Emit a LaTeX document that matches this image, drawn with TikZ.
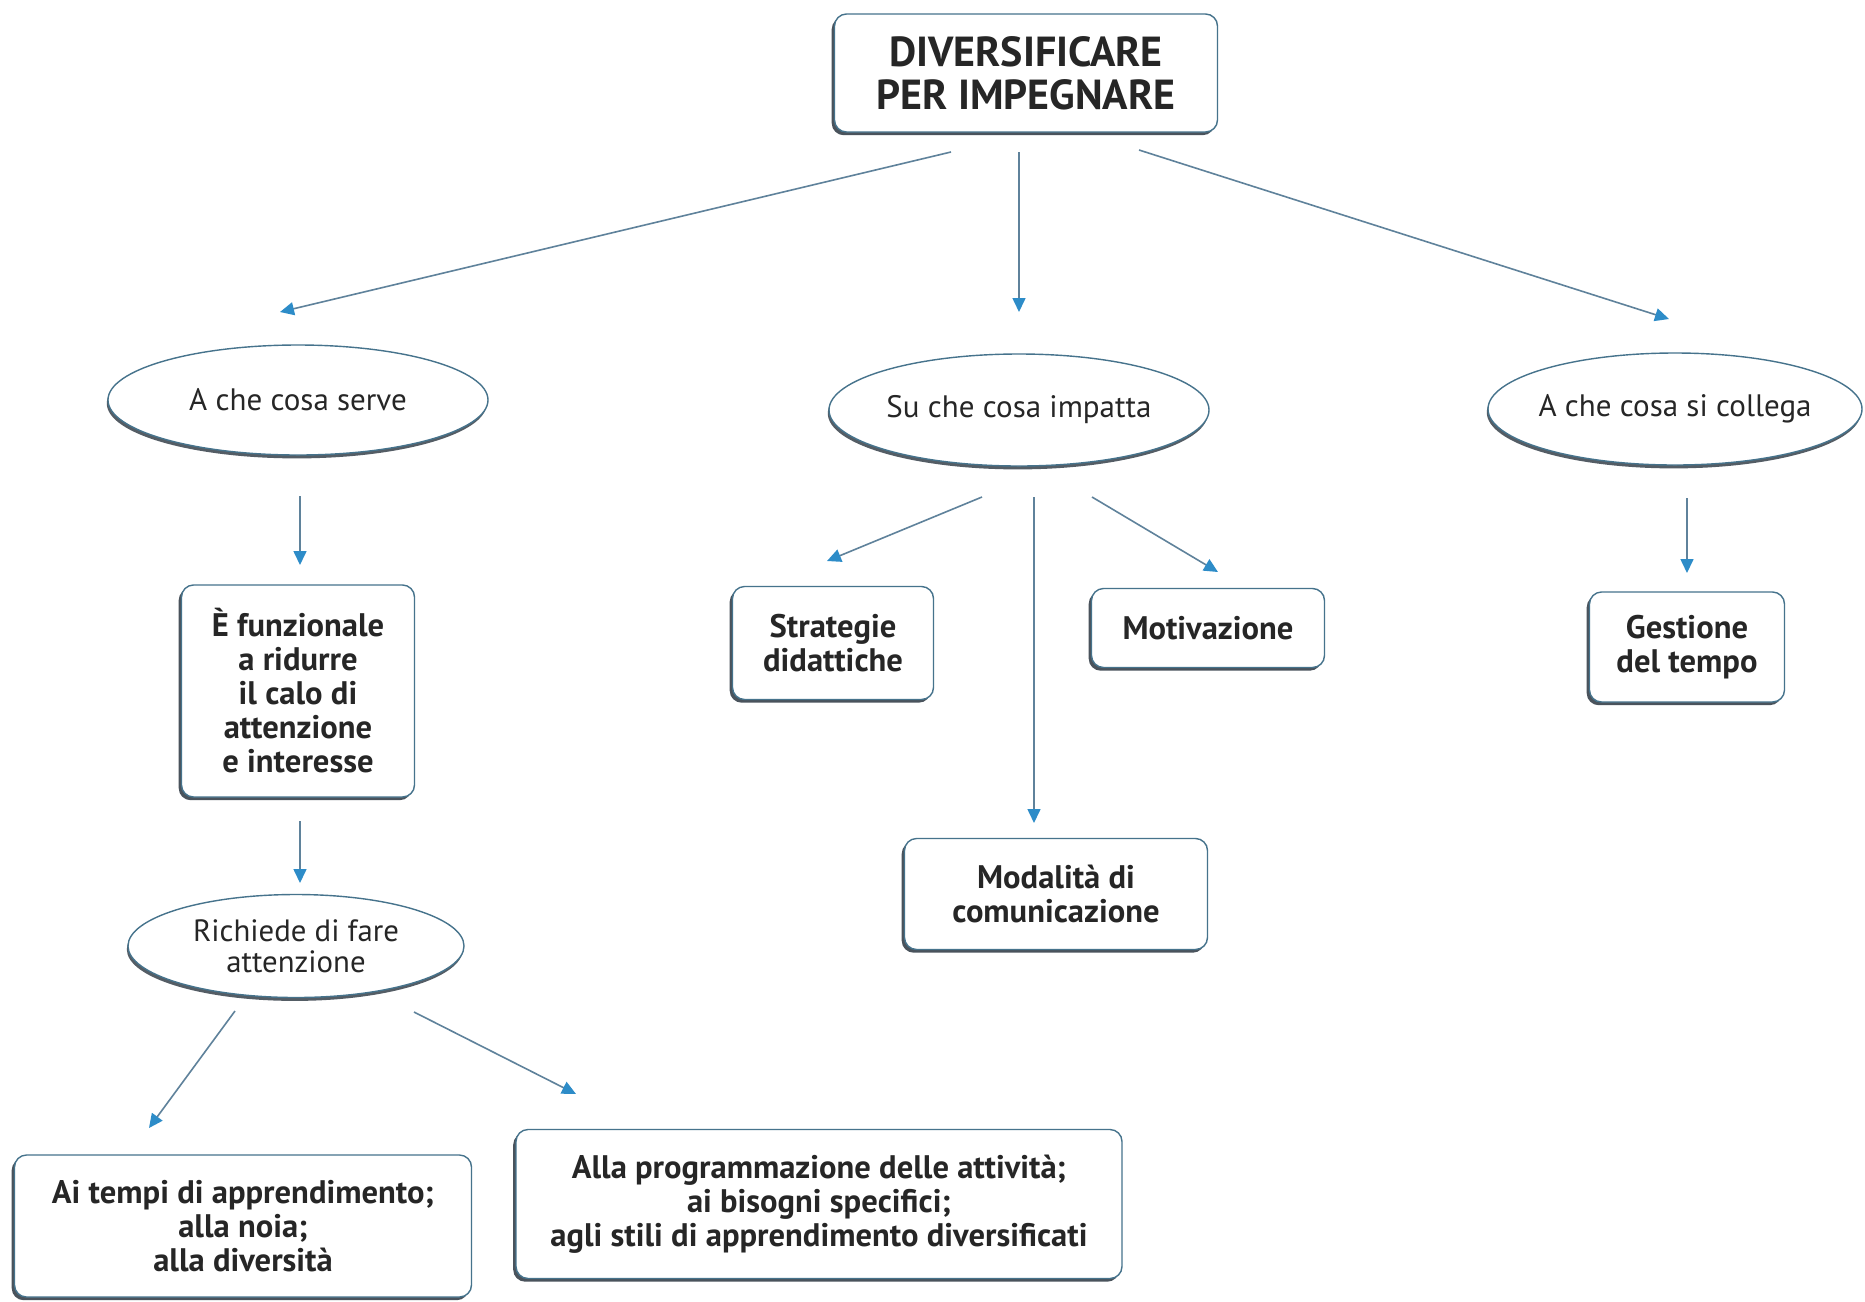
\documentclass[tikz,border=0pt]{standalone}
\usepackage{fontspec}
\setmainfont{PT Sans}
\usetikzlibrary{arrows.meta,shapes.geometric,shadows,calc}

\definecolor{linecol}{RGB}{95,130,155}
\definecolor{tipcol}{RGB}{45,140,200}
\definecolor{framecol}{RGB}{70,115,140}
\definecolor{shadecol}{RGB}{55,65,75}
\definecolor{textcol}{RGB}{38,38,38}

\tikzset{
  box/.style={rectangle, rounded corners=6pt, draw=framecol, line width=0.7pt,
    fill=white, text=textcol, align=center, inner sep=0pt,
    font=\bfseries\fontsize{16.3}{17}\selectfont,
    drop shadow={shadow xshift=-1.4pt, shadow yshift=-1.6pt, fill=shadecol, opacity=0.9}},
  oval/.style={ellipse, draw=framecol, line width=0.7pt, fill=white, text=textcol,
    align=center, inner ysep=0pt, inner xsep=-20pt, font=\fontsize{15.5}{16}\selectfont,
    drop shadow={shadow xshift=-0.6pt, shadow yshift=-1.7pt, fill=shadecol, opacity=0.85}},
  conn/.style={draw=linecol, line width=0.8pt,
    -{Triangle[length=7pt,width=6.5pt,color=tipcol]}}
}

\begin{document}
\begin{tikzpicture}[x=0.5pt,y=-0.5pt]
  \useasboundingbox[fill=white] (0,0) rectangle (1865,1302);

  % root
  \node[box, minimum width=191.5pt, minimum height=59pt,
        font=\bfseries\fontsize{21}{21.5}\selectfont] (title) at (1026,73)
        {DIVERSIFICARE\\PER IMPEGNARE};

  % three questions
  \node[oval, minimum width=190pt, minimum height=55pt] (serve) at (298,400) {A che cosa serve};
  \node[oval, minimum width=190pt, minimum height=56pt] (impatta) at (1019,410) {Su che cosa impatta};
  \node[oval, minimum width=187pt, minimum height=56pt] (collega) at (1675,409) {A che cosa si collega};

  % left branch
  \node[box, minimum width=116.5pt, minimum height=106pt] (funz) at (298,691)
        {È funzionale\\a ridurre\\il calo di\\attenzione\\e interesse};
  \node[oval, minimum width=168pt, minimum height=51.5pt,
        font=\fontsize{15.4}{15.5}\selectfont] (richiede) at (296,946)
        {Richiede di fare\\attenzione};
  \node[box, minimum width=228.5pt, minimum height=71pt] (tempi) at (243,1226)
        {Ai tempi di apprendimento;\\alla noia;\\alla diversità};
  \node[box, minimum width=303pt, minimum height=74.5pt] (prog) at (819,1204)
        {Alla programmazione delle attività;\\ai bisogni specifici;\\agli stili di apprendimento diversificati};

  % middle branch
  \node[box, minimum width=100.5pt, minimum height=56.5pt] (strategie) at (833,643)
        {Strategie\\didattiche};
  \node[box, minimum width=116.5pt, minimum height=39.5pt] (motiv) at (1208,628)
        {Motivazione};
  \node[box, minimum width=151.5pt, minimum height=55.5pt] (modal) at (1056,894)
        {Modalità di\\comunicazione};

  % right branch
  \node[box, minimum width=97.5pt, minimum height=55pt] (gestione) at (1687,647)
        {Gestione\\del tempo};

  % connectors
  \draw[conn] ($(title)+(-75,79)$) -- ($(serve)+(-18,-88)$);
  \draw[conn] ($(title)+(-7,79)$) -- ($(impatta)+(0,-98)$);
  \draw[conn] ($(title)+(113,77)$) -- ($(collega)+(-6,-90)$);

  \draw[conn] ($(serve)+(2,96)$) -- ($(funz)+(2,-126)$);
  \draw[conn] ($(funz)+(2,130)$) -- ($(richiede)+(4,-63)$);
  \draw[conn] ($(richiede)+(-61,65)$) -- ($(tempi)+(-94,-98)$);
  \draw[conn] ($(richiede)+(118,66)$) -- ($(prog)+(-243,-110)$);

  \draw[conn] ($(impatta)+(-37,87)$) -- ($(strategie)+(-6,-82)$);
  \draw[conn] ($(impatta)+(15,87)$) -- ($(modal)+(-22,-71)$);
  \draw[conn] ($(impatta)+(73,87)$) -- ($(motiv)+(10,-56)$);

  \draw[conn] ($(collega)+(12,89)$) -- ($(gestione)+(0,-74)$);
\end{tikzpicture}
\end{document}
